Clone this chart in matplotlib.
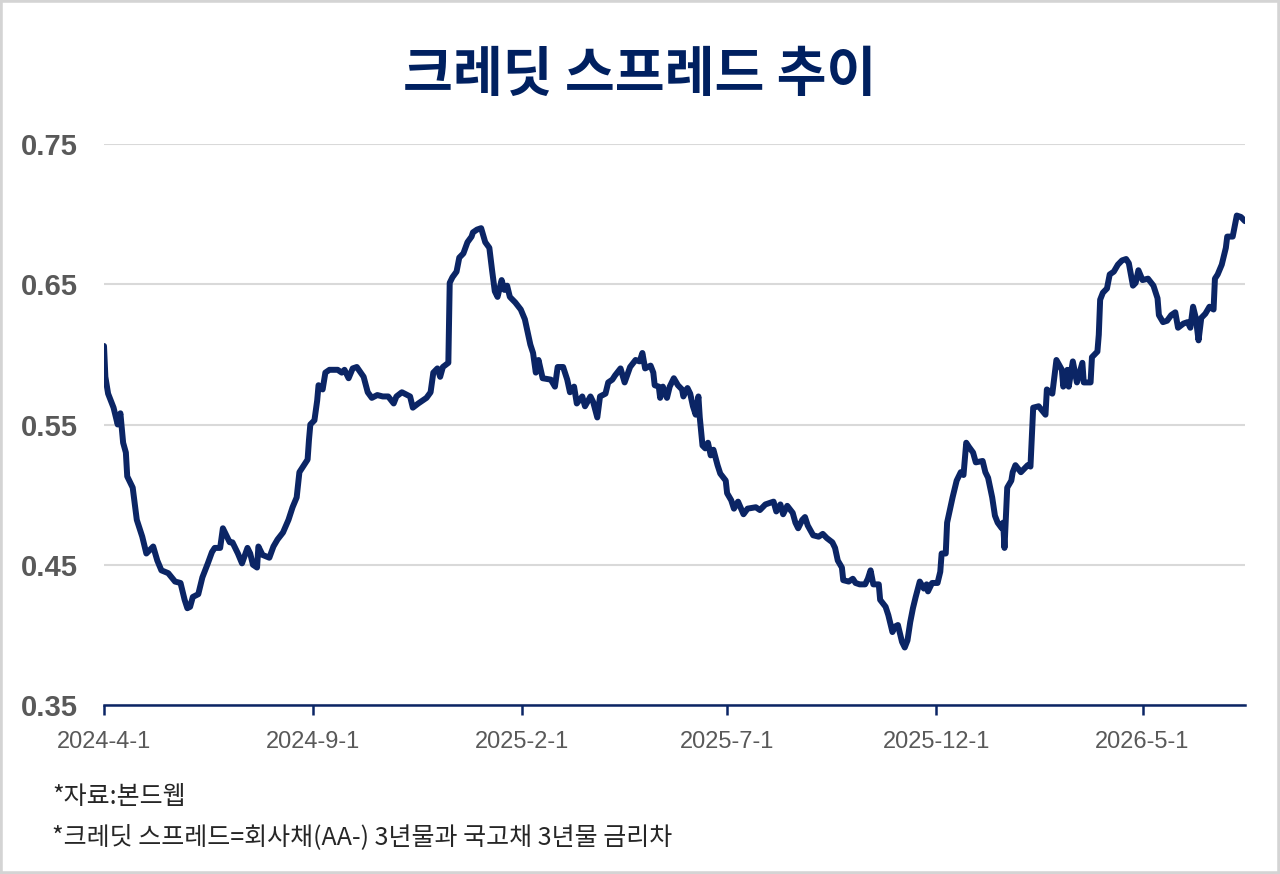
import pandas as pd
import matplotlib
matplotlib.use('Agg')
import matplotlib.pyplot as plt
from matplotlib.patches import Rectangle

plt.rcParams['font.family'] = ['Noto Sans CJK KR', 'DejaVu Sans']

# 데이터
dates = [
    '2024-04-01', '2024-04-02', '2024-04-04', '2024-04-08', '2024-04-11', '2024-04-13', '2024-04-15',
    '2024-04-17', '2024-04-18', '2024-04-22', '2024-04-25', '2024-04-29', '2024-05-02', '2024-05-07',
    '2024-05-10', '2024-05-13', '2024-05-18', '2024-05-23', '2024-05-27', '2024-05-30', '2024-06-01',
    '2024-06-03', '2024-06-05', '2024-06-09', '2024-06-12', '2024-06-16', '2024-06-19', '2024-06-21',
    '2024-06-25', '2024-06-27', '2024-06-30', '2024-07-02', '2024-07-04', '2024-07-08', '2024-07-11',
    '2024-07-15', '2024-07-17', '2024-07-19', '2024-07-22', '2024-07-23', '2024-07-26', '2024-07-31',
    '2024-08-03', '2024-08-06', '2024-08-10', '2024-08-14', '2024-08-17', '2024-08-20', '2024-08-22',
    '2024-08-28', '2024-08-29', '2024-08-30', '2024-09-02', '2024-09-04', '2024-09-05', '2024-09-08',
    '2024-09-10', '2024-09-13', '2024-09-19', '2024-09-22', '2024-09-24', '2024-09-27', '2024-09-30',
    '2024-10-03', '2024-10-08', '2024-10-11', '2024-10-14', '2024-10-18', '2024-10-22', '2024-10-26',
    '2024-10-30', '2024-11-01', '2024-11-05', '2024-11-09', '2024-11-11', '2024-11-13', '2024-11-17',
    '2024-11-20', '2024-11-23', '2024-11-26', '2024-11-28', '2024-12-01', '2024-12-03', '2024-12-05',
    '2024-12-09', '2024-12-10', '2024-12-12', '2024-12-15', '2024-12-17', '2024-12-20', '2024-12-23',
    '2024-12-26', '2024-12-27', '2024-12-30', '2025-01-02', '2025-01-05', '2025-01-08', '2025-01-10',
    '2025-01-12', '2025-01-14', '2025-01-17', '2025-01-19', '2025-01-21', '2025-01-23', '2025-01-27',
    '2025-01-31', '2025-02-03', '2025-02-05', '2025-02-07', '2025-02-09', '2025-02-11', '2025-02-13',
    '2025-02-16', '2025-02-22', '2025-02-25', '2025-02-27', '2025-03-03', '2025-03-06', '2025-03-08',
    '2025-03-11', '2025-03-13', '2025-03-17', '2025-03-19', '2025-03-23', '2025-03-25', '2025-03-28',
    '2025-03-30', '2025-04-03', '2025-04-05', '2025-04-08', '2025-04-10', '2025-04-14', '2025-04-17',
    '2025-04-21', '2025-04-25', '2025-04-28', '2025-04-30', '2025-05-02', '2025-05-06', '2025-05-08',
    '2025-05-09', '2025-05-12', '2025-05-13', '2025-05-15', '2025-05-18', '2025-05-20', '2025-05-23',
    '2025-05-26', '2025-05-29', '2025-05-30', '2025-06-02', '2025-06-04', '2025-06-06', '2025-06-08',
    '2025-06-10', '2025-06-11', '2025-06-13', '2025-06-15', '2025-06-17', '2025-06-19', '2025-06-21',
    '2025-06-24', '2025-06-26', '2025-06-30', '2025-07-01', '2025-07-04', '2025-07-06', '2025-07-09',
    '2025-07-13', '2025-07-16', '2025-07-22', '2025-07-25', '2025-07-29', '2025-08-04', '2025-08-06',
    '2025-08-09', '2025-08-11', '2025-08-14', '2025-08-18', '2025-08-20', '2025-08-22', '2025-08-25',
    '2025-08-27', '2025-08-29', '2025-09-02', '2025-09-06', '2025-09-09', '2025-09-12', '2025-09-16',
    '2025-09-18', '2025-09-20', '2025-09-23', '2025-09-24', '2025-09-28', '2025-10-01', '2025-10-03',
    '2025-10-06', '2025-10-10', '2025-10-12', '2025-10-14', '2025-10-16', '2025-10-20', '2025-10-21',
    '2025-10-25', '2025-10-27', '2025-10-30', '2025-11-01', '2025-11-03', '2025-11-06', '2025-11-08',
    '2025-11-10', '2025-11-12', '2025-11-14', '2025-11-16', '2025-11-19', '2025-11-22', '2025-11-24',
    '2025-11-25', '2025-11-28', '2025-12-02', '2025-12-04', '2025-12-05', '2025-12-08', '2025-12-09',
    '2025-12-11', '2025-12-13', '2025-12-16', '2025-12-19', '2025-12-21', '2025-12-23', '2025-12-25',
    '2025-12-28', '2025-12-30', '2026-01-04', '2026-01-06', '2026-01-08', '2026-01-11', '2026-01-13',
    '2026-01-15', '2026-01-18', '2026-01-19', '2026-01-20', '2026-01-22', '2026-01-25', '2026-01-26',
    '2026-01-28', '2026-02-01', '2026-02-06', '2026-02-08', '2026-02-10', '2026-02-14', '2026-02-19',
    '2026-02-20', '2026-02-24', '2026-02-27', '2026-03-03', '2026-03-04', '2026-03-07', '2026-03-08',
    '2026-03-11', '2026-03-14', '2026-03-18', '2026-03-19', '2026-03-24', '2026-03-25', '2026-03-29',
    '2026-03-30', '2026-03-31', '2026-04-02', '2026-04-05', '2026-04-07', '2026-04-10', '2026-04-13',
    '2026-04-16', '2026-04-19', '2026-04-21', '2026-04-24', '2026-04-26', '2026-04-28', '2026-05-01',
    '2026-05-05', '2026-05-09', '2026-05-12', '2026-05-13', '2026-05-16', '2026-05-19', '2026-05-22',
    '2026-05-25', '2026-05-27', '2026-05-31', '2026-06-03', '2026-06-05', '2026-06-07', '2026-06-09',
    '2026-06-11', '2026-06-13', '2026-06-16', '2026-06-19', '2026-06-22', '2026-06-23', '2026-06-25',
    '2026-06-28', '2026-07-01', '2026-07-02', '2026-07-06', '2026-07-09', '2026-07-12', '2026-07-15',
]

spread = [
    0.606, 0.584, 0.572, 0.562, 0.550, 0.558, 0.537,
    0.530, 0.513, 0.505, 0.482, 0.470, 0.458, 0.463,
    0.453, 0.446, 0.444, 0.438, 0.437, 0.425, 0.419,
    0.420, 0.427, 0.429, 0.441, 0.451, 0.459, 0.462,
    0.462, 0.476, 0.470, 0.466, 0.466, 0.458, 0.451,
    0.462, 0.458, 0.450, 0.448, 0.463, 0.457, 0.455,
    0.463, 0.468, 0.473, 0.482, 0.491, 0.498, 0.516,
    0.525, 0.539, 0.550, 0.553, 0.567, 0.578, 0.575,
    0.587, 0.589, 0.589, 0.587, 0.589, 0.583, 0.590,
    0.591, 0.584, 0.573, 0.569, 0.571, 0.570, 0.570,
    0.565, 0.570, 0.573, 0.571, 0.570, 0.562, 0.565,
    0.567, 0.569, 0.573, 0.587, 0.590, 0.584, 0.591,
    0.594, 0.651, 0.655, 0.659, 0.669, 0.672, 0.680,
    0.684, 0.687, 0.689, 0.690, 0.680, 0.676, 0.660,
    0.645, 0.641, 0.653, 0.646, 0.649, 0.641, 0.637,
    0.632, 0.625, 0.616, 0.607, 0.601, 0.587, 0.596,
    0.583, 0.582, 0.577, 0.591, 0.591, 0.582, 0.573,
    0.577, 0.565, 0.570, 0.563, 0.570, 0.566, 0.555,
    0.570, 0.572, 0.580, 0.582, 0.585, 0.590, 0.580,
    0.591, 0.596, 0.595, 0.601, 0.590, 0.592, 0.587,
    0.578, 0.577, 0.569, 0.577, 0.569, 0.577, 0.583,
    0.578, 0.575, 0.570, 0.576, 0.572, 0.563, 0.557,
    0.570, 0.555, 0.535, 0.533, 0.537, 0.528, 0.532,
    0.521, 0.515, 0.510, 0.501, 0.496, 0.490, 0.495,
    0.486, 0.490, 0.491, 0.489, 0.493, 0.495, 0.488,
    0.493, 0.486, 0.492, 0.487, 0.480, 0.476, 0.482,
    0.484, 0.478, 0.471, 0.470, 0.472, 0.469, 0.466,
    0.462, 0.453, 0.448, 0.439, 0.438, 0.440, 0.437,
    0.436, 0.436, 0.440, 0.446, 0.436, 0.436, 0.425,
    0.420, 0.414, 0.402, 0.406, 0.407, 0.395, 0.391,
    0.396, 0.409, 0.419, 0.427, 0.438, 0.433, 0.436,
    0.431, 0.437, 0.437, 0.445, 0.458, 0.458, 0.480,
    0.489, 0.498, 0.510, 0.516, 0.514, 0.537, 0.534,
    0.530, 0.523, 0.524, 0.516, 0.512, 0.498, 0.485,
    0.480, 0.476, 0.480, 0.462, 0.505, 0.510, 0.516,
    0.521, 0.516, 0.521, 0.520, 0.562, 0.563, 0.557,
    0.575, 0.572, 0.596, 0.589, 0.577, 0.589, 0.577,
    0.595, 0.580, 0.594, 0.580, 0.580, 0.598, 0.602,
    0.614, 0.639, 0.644, 0.647, 0.657, 0.659, 0.664,
    0.667, 0.668, 0.665, 0.649, 0.651, 0.660, 0.653,
    0.654, 0.649, 0.640, 0.628, 0.623, 0.624, 0.628,
    0.630, 0.619, 0.622, 0.623, 0.619, 0.634, 0.626,
    0.610, 0.626, 0.629, 0.634, 0.632, 0.654, 0.657,
    0.664, 0.676, 0.684, 0.684, 0.699, 0.698, 0.695,
]

x_ticks = ['2024-04-01', '2024-09-01', '2025-02-01', '2025-07-01', '2025-12-01', '2026-05-01']
x_tick_labels = ['2024-4-1', '2024-9-1', '2025-2-1', '2025-7-1', '2025-12-1', '2026-5-1']
y_ticks = [0.35, 0.45, 0.55, 0.65, 0.75]

title = '크레딧 스프레드 추이'
notes = ['*자료:본드웹', '*크레딧 스프레드=회사채(AA-) 3년물과 국고채 3년물 금리차']

NAVY = '#0b2565'

fig = plt.figure(figsize=(12.8, 8.74), dpi=100)
ax = fig.add_axes([0.08125, 0.1934, 0.8914, 0.6418])

ax.plot(pd.to_datetime(dates), spread, color=NAVY, linewidth=4.3,
        solid_joinstyle='round', solid_capstyle='round')

ax.set_xlim(pd.Timestamp('2024-04-01'), pd.Timestamp('2026-07-15'))
ax.set_ylim(0.35, 0.75)
ax.set_yticks(y_ticks)
ax.set_yticklabels([f'{v:.2f}' for v in y_ticks])
ax.set_xticks(pd.to_datetime(x_ticks))
ax.set_xticklabels(x_tick_labels)

# 그리드, 축 스타일
ax.grid(axis='y', color='#d9d9d9', linewidth=1.5)
ax.set_axisbelow(True)
for side in ['top', 'right', 'left']:
    ax.spines[side].set_visible(False)
ax.spines['bottom'].set_color(NAVY)
ax.spines['bottom'].set_linewidth(1.8)
ax.spines['bottom'].set_zorder(3)

ax.tick_params(axis='y', length=0, pad=19, labelsize=21, labelcolor='#595959')
for lbl in ax.get_yticklabels():
    lbl.set_fontweight('bold')
    lbl.set_family(['Liberation Sans', 'DejaVu Sans'])
ax.tick_params(axis='x', direction='out', length=7, width=1.8, color=NAVY,
               pad=12, labelsize=17, labelcolor='#595959')
for lbl in ax.get_xticklabels():
    lbl.set_family(['Liberation Sans', 'DejaVu Sans'])

fig.text(0.5, 0.914, title, ha='center', va='center', fontsize=39,
         fontweight='bold', color='#002060')

fig.text(0.041, 0.088, notes[0], ha='left', va='center', fontsize=18, color='#262626')
fig.text(0.041, 0.042, notes[1], ha='left', va='center', fontsize=18, color='#262626')

# 바깥 테두리
fig.patches.append(Rectangle((0, 0), 1, 1, transform=fig.transFigure, fill=False,
                             edgecolor='#d4d4d4', linewidth=4))

fig.savefig('out.png', dpi=100)
